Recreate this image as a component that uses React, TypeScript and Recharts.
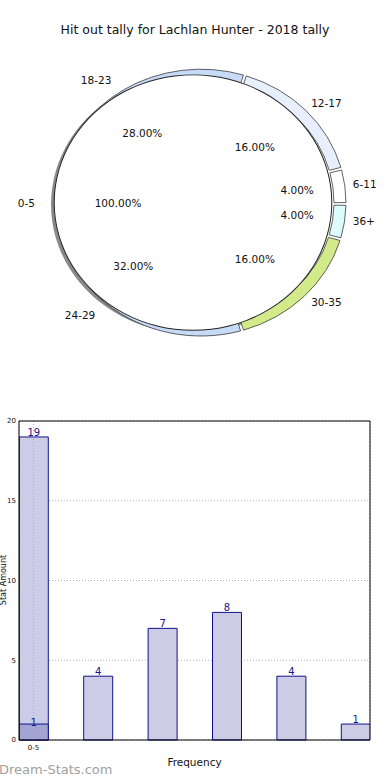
import { PieChart, Pie, Cell, BarChart, Bar, XAxis, YAxis, CartesianGrid, LabelList, ReferenceLine } from 'recharts';

const ringNames = ['6-11', '12-17', '18-23', '24-29', '30-35', '36+'];
const ringValues = [4, 16, 28, 32, 16, 4];
const ringColors = ['#ffffff', '#e8effc', '#c7dbf8', '#c7dbf8', '#d3ea8b', '#dbfbfc'];
const innerNames = ['0-5'];
const innerValues = [100];

const barCategories = ['0-5', '6-11', '12-17', '18-23', '24-29', '30-35'];
const barValues = [19, 4, 7, 8, 4, 1];
const overlayValues = [1, null, null, null, null, null];
const yTicks = [0, 5, 10, 15, 20];

const FONT = '"DejaVu Sans", sans-serif';
const SQUASH = 0.92;
const RAD = Math.PI / 180;

const ringData = ringNames.map((name, i) => ({ name, value: ringValues[i] }));
const innerData = innerNames.map((name, i) => ({ name, value: innerValues[i] }));
const barData = barCategories.map((name, i) => ({
  pos: i,
  name,
  total: barValues[i],
  first: overlayValues[i],
}));

// text inside the squashed pie needs to be stretched back
function PieText({ x, y, anchor, children }: any) {
  return (
    <text
      transform={`translate(${x},${y}) scale(1,${1 / SQUASH})`}
      textAnchor={anchor}
      dominantBaseline="central"
      fontSize={10.5}
      fontFamily={FONT}
      fill="#111"
    >
      {children}
    </text>
  );
}

function makeLabel(nameCx: number, nameR: number, pctCx: number, pctR: (p: number) => number) {
  return (props: any) => {
    const { cy, midAngle, percent, name } = props;
    const c = Math.cos(-midAngle * RAD);
    const s = Math.sin(-midAngle * RAD);
    const r2 = pctR(percent);
    return (
      <g>
        <PieText x={nameCx + nameR * c} y={cy + nameR * s} anchor={c >= 0 ? 'start' : 'end'}>
          {name}
        </PieText>
        <PieText x={pctCx + r2 * c} y={cy + r2 * s} anchor="middle">
          {(percent * 100).toFixed(2) + '%'}
        </PieText>
      </g>
    );
  };
}

export default function App() {
  return (
    <div style={{ position: 'absolute', left: 0, top: 0, width: 390, height: 780, background: '#fff', overflow: 'hidden', fontFamily: FONT }}>
      <div style={{ position: 'absolute', left: 0, top: 22, width: 390, textAlign: 'center', fontSize: 12.5, color: '#111' }}>
        Hit out tally for Lachlan Hunter - 2018 tally
      </div>

      <div style={{ position: 'absolute', left: 0, top: 0, width: 390, height: 400, transform: `scaleY(${SQUASH})`, transformOrigin: '190px 198px' }}>
        <PieChart width={390} height={400}>
          <Pie data={innerData} dataKey="value" cx={186} cy={200} outerRadius={140} startAngle={0} endAngle={360}
            fill="#8a8a8a" stroke="none" isAnimationActive={false} />
          <Pie data={ringData} dataKey="value" cx={196} cy={198} innerRadius={133} outerRadius={145}
            startAngle={0} endAngle={360} paddingAngle={1.2} stroke="#333" strokeWidth={0.8} isAnimationActive={false}>
            {ringData.map((d, i) => (
              <Cell key={d.name} fill={ringColors[i]} />
            ))}
          </Pie>
          <Pie data={innerData} dataKey="value" cx={188} cy={198} outerRadius={139} startAngle={0} endAngle={360}
            fill="#ffffff" stroke="none" isAnimationActive={false} labelLine={false}
            label={makeLabel(188, 153, 188, () => 70)} />
          <Pie data={innerData} dataKey="value" cx={188} cy={198} innerRadius={138.3} outerRadius={139.3} startAngle={0} endAngle={360}
            fill="#222" stroke="none" isAnimationActive={false} />
          <Pie data={ringData} dataKey="value" cx={196} cy={198} innerRadius={133} outerRadius={145}
            startAngle={0} endAngle={360} fill="none" stroke="none" isAnimationActive={false} labelLine={false}
            label={makeLabel(196, 158, 190, (p) => (p < 0.05 ? 108 : 89))} />
        </PieChart>
      </div>

      <div style={{ position: 'absolute', left: 0, top: 400 }}>
        <BarChart width={390} height={380} data={barData} margin={{ top: 21, right: 20, bottom: 10, left: 0 }} barGap={-29}>
          <XAxis
            dataKey="pos"
            type="number"
            domain={[-0.225, 5.225]}
            ticks={[0]}
            tickFormatter={(v: number) => barCategories[v]}
            tick={{ fontSize: 7, fill: '#111', fontFamily: FONT }}
            tickLine={false}
            tickSize={0}
            tickMargin={5}
            axisLine={{ stroke: '#000' }}
            height={30}
            allowDataOverflow
            label={{ value: 'Frequency', position: 'insideBottom', offset: 4, fontSize: 10.5, fill: '#111', fontFamily: FONT }}
          />
          <YAxis
            type="number"
            domain={[0, 20]}
            ticks={yTicks}
            width={19}
            tick={{ fontSize: 7, fill: '#111', fontFamily: FONT }}
            tickLine={false}
            tickSize={0}
            tickMargin={3}
            axisLine={{ stroke: '#000' }}
          />
          <Bar dataKey="total" barSize={29} fill="#cccce6" stroke="#10108a" strokeWidth={1} isAnimationActive={false}>
            <LabelList dataKey="total" position="top" offset={1} fill="#14148c" fontSize={10} fontFamily={FONT} />
          </Bar>
          <Bar dataKey="first" barSize={29} fill="#a4a4d2" stroke="#10108a" strokeWidth={1} isAnimationActive={false}>
            <LabelList dataKey="first" position="top" offset={-2} fill="#14148c" fontSize={10} fontFamily={FONT} />
          </Bar>
          <CartesianGrid stroke="#b0b0b0" strokeDasharray="1 2" />
          <ReferenceLine x={0} stroke="#b0b0b0" strokeDasharray="1 2" />
          <ReferenceLine y={20} stroke="#000" />
          <ReferenceLine x={5.225} stroke="#000" />
        </BarChart>
      </div>

      <div style={{ position: 'absolute', left: -36, top: 575, width: 80, lineHeight: '10px', transform: 'rotate(-90deg)', textAlign: 'center', fontSize: 8, color: '#111' }}>
        Stat Amount
      </div>

      <div style={{ position: 'absolute', left: -1, top: 762, fontSize: 13, color: '#a0a0a0' }}>
        Dream-Stats.com
      </div>
    </div>
  );
}
